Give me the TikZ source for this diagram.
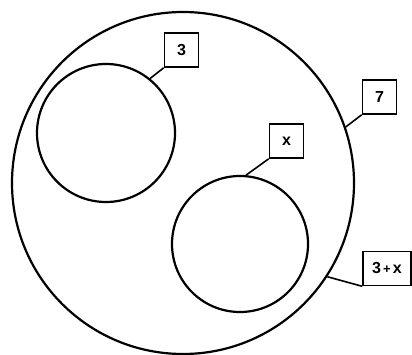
\documentclass[tikz,border=0pt]{standalone}
\usepackage{fontspec}
\setmainfont{Liberation Sans}
\usetikzlibrary{positioning}

\tikzset{
  ring/.style={draw, circle, line width=2.2pt, inner sep=0pt},
  tag/.style={draw, rectangle, line width=1.6pt, minimum height=34pt, minimum width=34pt, inner sep=2pt, font=\bfseries\fontsize{16}{16}\selectfont},
  leader/.style={line width=1.6pt}
}

\begin{document}
\begin{tikzpicture}[x=1pt, y=-1pt]
\useasboundingbox (0,0) rectangle (412,355);
% sets
\node (all) [ring, minimum size=342pt] at (183,183) {};
\node (left) [ring, minimum size=138pt] at (106,133) {};
\node (right) [ring, minimum size=136pt] at (240,244) {};

% labels
\node (tthree) [tag] at (181.5,50) {3};
\node (tseven) [tag] at (379.5,97) {7};
\node (tx) [tag] at (286.5,141) {x};
\node (tsum) [tag, minimum width=48pt] at (387,268.5) {3{\fontsize{13}{13}\selectfont\,+\,}x};

\draw[leader] (left.51) -- (tthree.south west);
\draw[leader] (all.19) -- (tseven.south west);
\draw[leader] (right.85) -- (tx.south west);
\draw[leader] (all.-33) -- (tsum.south west);
\end{tikzpicture}
\end{document}
